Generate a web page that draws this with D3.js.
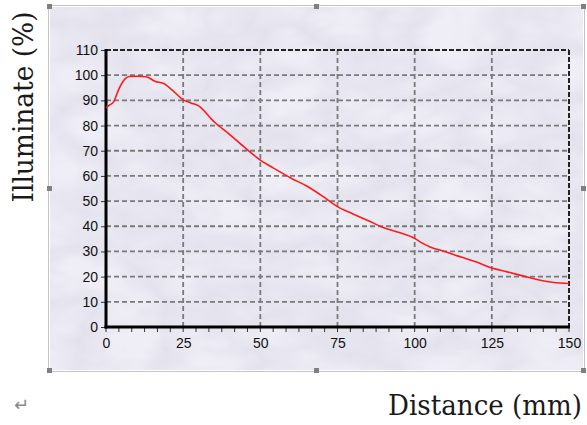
<!DOCTYPE html>
<html>
<head>
<meta charset="utf-8">
<script src="https://cdn.jsdelivr.net/npm/d3@7"></script>
<style>
  body { margin: 0; background: #fff; }
  svg { display: block; }
</style>
</head>
<body>
<script>
const W = 587, H = 425;

// data
const distance = [0, 1, 2.5, 4, 5.5, 7.5, 10, 13, 16, 18.5, 22, 25, 27.5, 30, 35, 40, 45, 50, 55, 60, 65, 70, 75, 80, 85, 90, 95, 100, 102.5, 105, 110, 115, 120, 125, 130, 135, 140, 145, 150];
const illuminate = [87, 88, 89.5, 94, 97.5, 99.5, 99.6, 99.4, 97.5, 96.8, 93.5, 90.2, 89, 87.8, 81.5, 76.5, 71.2, 66.3, 62.6, 59.1, 56, 52.1, 47.8, 44.9, 42.2, 39.4, 37.5, 35.2, 33.3, 31.8, 29.9, 27.8, 25.8, 23.4, 21.9, 20.3, 18.8, 17.7, 17.3];
const xTicks = [0, 25, 50, 75, 100, 125, 150];
const yTicks = [0, 10, 20, 30, 40, 50, 60, 70, 80, 90, 100, 110];

const svg = d3.select("body").append("svg")
  .attr("width", W).attr("height", H);

const defs = svg.append("defs");
const f = defs.append("filter").attr("id", "marble")
  .attr("x", 0).attr("y", 0).attr("width", 1).attr("height", 1);
f.append("feTurbulence").attr("type", "turbulence")
  .attr("baseFrequency", "0.012 0.02").attr("numOctaves", 3).attr("seed", 7).attr("result", "t");
f.append("feColorMatrix").attr("in", "t").attr("type", "matrix")
  .attr("values", "0 0 0 0 0.55  0 0 0 0 0.55  0 0 0 0 0.68  -1.6 0 0 0 0.9")
  .attr("result", "c");
f.append("feComponentTransfer").attr("in", "c")
  .append("feFuncA").attr("type", "linear").attr("slope", 0.35);

// picture frame
svg.append("rect").attr("x", 50).attr("y", 7).attr("width", 533).attr("height", 363)
  .attr("fill", "#efeef6");
svg.append("rect").attr("x", 50).attr("y", 7).attr("width", 533).attr("height", 363)
  .attr("filter", "url(#marble)");
svg.append("rect").attr("x", 48.5).attr("y", 5.5).attr("width", 536).attr("height", 366)
  .attr("fill", "none").attr("stroke", "#888").attr("stroke-width", 1).attr("stroke-dasharray", "1,1");
const handles = [[48, 5], [48, 187], [48, 369], [315, 369], [582, 369], [582, 5], [582, 187], [315, 5]];
svg.selectAll("rect.h").data(handles).enter().append("rect")
  .attr("class", "h").attr("x", d => d[0] - 1).attr("y", d => d[1] - 1)
  .attr("width", 5).attr("height", 5).attr("fill", "#808080");

const x = d3.scaleLinear().domain([0, 150]).range([106, 569]);
const y = d3.scaleLinear().domain([0, 110]).range([327, 50]);

// grid
const g = svg.append("g");
g.selectAll("line.gx").data(xTicks.slice(1, -1)).enter().append("line")
  .attr("x1", d => x(d)).attr("x2", d => x(d)).attr("y1", y(110)).attr("y2", y(0))
  .attr("stroke", "#7a7a7a").attr("stroke-width", 1.8).attr("stroke-dasharray", "5,3");
g.selectAll("line.gy").data(yTicks.slice(1, -1)).enter().append("line")
  .attr("y1", d => y(d)).attr("y2", d => y(d)).attr("x1", x(0)).attr("x2", x(150))
  .attr("stroke", "#7a7a7a").attr("stroke-width", 1.8).attr("stroke-dasharray", "5,3");

// top / right borders dashed
g.append("line").attr("x1", x(0)).attr("x2", x(150)).attr("y1", y(110)).attr("y2", y(110))
  .attr("stroke", "#222").attr("stroke-width", 2).attr("stroke-dasharray", "5,2");
g.append("line").attr("x1", x(150)).attr("x2", x(150)).attr("y1", y(110)).attr("y2", y(0))
  .attr("stroke", "#222").attr("stroke-width", 2).attr("stroke-dasharray", "5,2");

// axes
const xAxis = d3.axisBottom(x).tickValues(xTicks).tickSize(0).tickPadding(11);
const xa = svg.append("g").attr("transform", `translate(0,${y(0)})`).call(xAxis);
xa.select(".domain").remove();
xa.selectAll("text").attr("font-family", "Arial, 'Liberation Sans', sans-serif")
  .attr("font-size", 14).attr("fill", "#111");

const minor = d3.range(0, 37).map(i => i * 25 / 6);
svg.selectAll("line.mx").data(minor).enter().append("line")
  .attr("x1", d => x(d)).attr("x2", d => x(d)).attr("y1", y(0)).attr("y2", y(0) + 5)
  .attr("stroke", "#333").attr("stroke-width", 1);

const yAxis = d3.axisLeft(y).tickValues(yTicks).tickSize(5).tickPadding(3);
const ya = svg.append("g").attr("transform", `translate(${x(0)},0)`).call(yAxis);
ya.select(".domain").remove();
ya.selectAll("line").attr("stroke", "#333");
ya.selectAll("text").attr("font-family", "Arial, 'Liberation Sans', sans-serif")
  .attr("font-size", 14).attr("fill", "#111");

svg.append("line").attr("x1", x(0)).attr("x2", x(0)).attr("y1", y(110) - 1).attr("y2", y(0) + 1.5)
  .attr("stroke", "#000").attr("stroke-width", 3);
svg.append("line").attr("x1", x(0) - 1.5).attr("x2", x(150) + 1).attr("y1", y(0)).attr("y2", y(0))
  .attr("stroke", "#000").attr("stroke-width", 3);

// curve
const line = d3.line().x((d, i) => x(distance[i])).y(d => y(d)).curve(d3.curveMonotoneX);
svg.append("path").datum(illuminate).attr("d", line)
  .attr("fill", "none").attr("stroke", "#ff1a1a").attr("stroke-width", 1.6);

// titles
svg.append("text").attr("transform", "translate(33,107) rotate(-90)")
  .attr("text-anchor", "middle").attr("font-family", "'DejaVu Serif', serif")
  .attr("font-size", 27).attr("fill", "#1a1a1a")
  .attr("textLength", 191).attr("lengthAdjust", "spacingAndGlyphs").text("Illuminate (%)");
svg.append("text").attr("x", 388).attr("y", 415)
  .attr("font-family", "'DejaVu Serif', serif")
  .attr("font-size", 27).attr("fill", "#1a1a1a")
  .attr("textLength", 194).attr("lengthAdjust", "spacingAndGlyphs").text("Distance (mm)");
svg.append("text").attr("x", 14).attr("y", 411)
  .attr("font-family", "'DejaVu Sans', sans-serif").attr("font-size", 18).attr("fill", "#888").text("↵");
</script>
</body>
</html>
